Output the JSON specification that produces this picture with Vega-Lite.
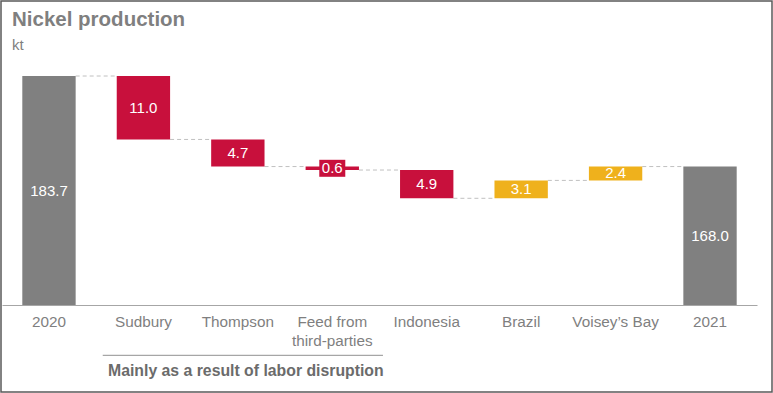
{
  "$schema": "https://vega.github.io/schema/vega-lite/v6.json",
  "width": 771,
  "height": 391,
  "padding": {"left": 1, "top": 1, "right": 1, "bottom": 1},
  "autosize": {"type": "none"},
  "background": "white",
  "config": {
    "view": {"stroke": "#595959", "strokeWidth": 1.5},
    "font": "Liberation Sans"
  },
  "title": {
    "text": "Nickel production",
    "subtitle": "kt",
    "anchor": "start",
    "frame": "group",
    "orient": "top",
    "offset": -52,
    "dx": 11,
    "fontSize": 20.5,
    "fontWeight": "bold",
    "color": "#7f7f7f",
    "subtitleFontSize": 15,
    "subtitleColor": "#7f7f7f",
    "subtitlePadding": 8
  },
  "datasets": {
    "steps": [
      {"cat": "2020", "next": "Sudbury", "start": 0, "end": 183.7, "kind": "total", "label": "183.7"},
      {"cat": "Sudbury", "next": "Thompson", "start": 183.7, "end": 172.7, "kind": "decrease", "label": "11.0"},
      {"cat": "Thompson", "next": "Feed from third-parties", "start": 172.7, "end": 168.0, "kind": "decrease", "label": "4.7"},
      {"cat": "Feed from third-parties", "next": "Indonesia", "start": 168.0, "end": 167.4, "kind": "decrease", "label": "0.6"},
      {"cat": "Indonesia", "next": "Brazil", "start": 167.4, "end": 162.5, "kind": "decrease", "label": "4.9"},
      {"cat": "Brazil", "next": "Voisey’s Bay", "start": 162.5, "end": 165.6, "kind": "increase", "label": "3.1"},
      {"cat": "Voisey’s Bay", "next": "2021", "start": 165.6, "end": 168.0, "kind": "increase", "label": "2.4"},
      {"cat": "2021", "next": null, "start": 0, "end": 168.0, "kind": "total", "label": "168.0"}
    ],
    "note": [
      {"from": "Sudbury", "to": "Feed from third-parties", "center": "Thompson", "text": "Mainly as a result of labor disruption", "lineAt": 135.25, "textAt": 132.6}
    ]
  },
  "resolve": {"scale": {"x": "shared", "y": "shared"}},
  "layer": [
    {
      "data": {"name": "steps"},
      "transform": [{"filter": "datum.next != null"}],
      "mark": {"type": "rule", "color": "#c0c0c0", "strokeWidth": 1, "strokeDash": [4, 3]},
      "encoding": {
        "x": {
          "field": "cat", "type": "nominal", "bandPosition": 1,
          "scale": {
            "domain": ["2020", "Sudbury", "Thompson", "Feed from third-parties", "Indonesia", "Brazil", "Voisey’s Bay", "2021"],
            "range": [1, 756], "paddingInner": 0.435, "paddingOuter": 0.215
          },
          "axis": {
            "title": null, "orient": "bottom", "offset": -87,
            "domainColor": "#a6a6a6", "domainWidth": 1.2, "ticks": false, "grid": false,
            "labelFontSize": 15.3, "labelColor": "#7f7f7f", "labelPadding": 9, "labelAngle": 0,
            "labelLineHeight": 19,
            "labelExpr": "datum.value == 'Feed from third-parties' ? ['Feed from', 'third-parties'] : datum.value"
          }
        },
        "x2": {"field": "next", "bandPosition": 0},
        "y": {"field": "end", "type": "quantitative", "scale": {"domain": [144, 183.7], "range": [304, 75], "zero": false, "nice": false}, "axis": null}
      }
    },
    {
      "data": {"name": "steps"},
      "transform": [{"calculate": "max(datum.start, 144)", "as": "lo"}],
      "mark": {"type": "bar"},
      "encoding": {
        "x": {"field": "cat", "type": "nominal"},
        "y": {"field": "lo", "type": "quantitative"},
        "y2": {"field": "end"},
        "color": {
          "field": "kind", "type": "nominal",
          "scale": {"domain": ["total", "decrease", "increase"], "range": ["#808080", "#c8103c", "#efb11c"]},
          "legend": null
        }
      }
    },
    {
      "data": {"name": "steps"},
      "transform": [
        {"filter": "datum.cat == 'Feed from third-parties'"},
        {"calculate": "(datum.start + datum.end) / 2", "as": "mid"}
      ],
      "mark": {"type": "tick", "size": 26, "thickness": 17, "color": "#c8103c", "opacity": 1},
      "encoding": {
        "x": {"field": "cat", "type": "nominal"},
        "y": {"field": "mid", "type": "quantitative"}
      }
    },
    {
      "data": {"name": "steps"},
      "transform": [
        {"calculate": "(max(datum.start, 144) + datum.end) / 2", "as": "mid"}
      ],
      "mark": {"type": "text", "color": "white", "fontSize": 15, "baseline": "middle", "align": "center"},
      "encoding": {
        "x": {"field": "cat", "type": "nominal"},
        "y": {"field": "mid", "type": "quantitative"},
        "text": {"field": "label"}
      }
    },
    {
      "data": {"name": "note"},
      "mark": {"type": "rule", "color": "#a6a6a6", "strokeWidth": 1.2, "xOffset": -14, "x2Offset": 24},
      "encoding": {
        "x": {"field": "from", "type": "nominal", "bandPosition": 0},
        "x2": {"field": "to", "bandPosition": 1},
        "y": {"field": "lineAt", "type": "quantitative"}
      }
    },
    {
      "data": {"name": "note"},
      "mark": {"type": "text", "color": "#6b6b6b", "fontSize": 15.8, "fontWeight": "bold", "baseline": "middle", "align": "center", "dx": 8},
      "encoding": {
        "x": {"field": "center", "type": "nominal"},
        "y": {"field": "textAt", "type": "quantitative"},
        "text": {"field": "text"}
      }
    }
  ]
}
